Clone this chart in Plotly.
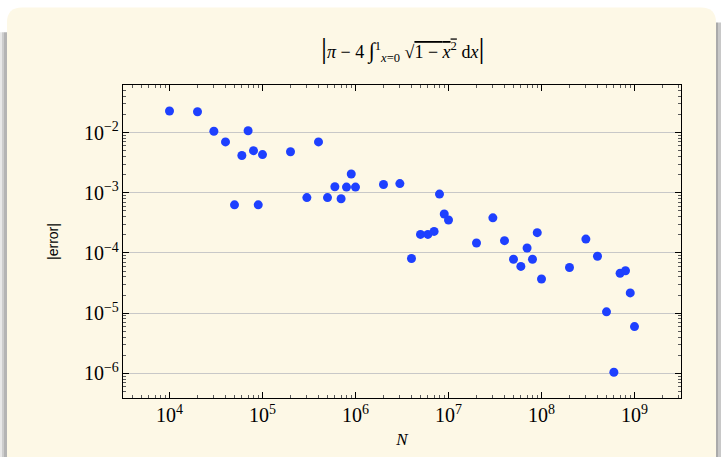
import plotly.graph_objects as go

# Data
N = [1e4, 2e4, 3e4, 4e4, 5e4, 6e4, 7e4, 8e4, 9e4,
     1e5, 2e5, 3e5, 4e5, 5e5, 6e5, 7e5, 8e5, 9e5,
     1e6, 2e6, 3e6, 4e6, 5e6, 6e6, 7e6, 8e6, 9e6,
     1e7, 2e7, 3e7, 4e7, 5e7, 6e7, 7e7, 8e7, 9e7,
     1e8, 2e8, 3e8, 4e8, 5e8, 6e8, 7e8, 8e8, 9e8,
     1e9]
error = [2.28e-2, 2.22e-2, 1.05e-2, 7.0e-3, 6.3e-4, 4.15e-3, 1.07e-2, 5.0e-3, 6.3e-4,
         4.3e-3, 4.8e-3, 8.3e-4, 7.0e-3, 8.3e-4, 1.26e-3, 7.96e-4, 1.24e-3, 2.05e-3,
         1.24e-3, 1.37e-3, 1.42e-3, 8.1e-5, 2.03e-4, 2.03e-4, 2.28e-4, 9.5e-4, 4.43e-4,
         3.53e-4, 1.46e-4, 3.83e-4, 1.6e-4, 7.87e-5, 5.97e-5, 1.21e-4, 7.87e-5, 2.17e-4,
         3.69e-5, 5.74e-5, 1.7e-4, 8.8e-5, 1.05e-5, 1.04e-6, 4.6e-5, 5.05e-5, 2.17e-5,
         5.97e-6]

W, H = 721, 457
L, R, T, B = 123, 681, 85, 400
CARD = "rgb(253,248,230)"

fig = go.Figure()
fig.add_trace(go.Scatter(x=N, y=error, mode="markers",
                         marker=dict(size=9, color="rgb(30,64,255)", line=dict(width=0)),
                         showlegend=False))


def px(x):
    return (x - L) / (R - L)


def py(y):
    return (B - y) / (B - T)


shapes = []
# card with rounded top corners
x0, x1, y0, y1, r = 7, 716, 7, 470, 15
path = (f"M {px(x0)},{py(y1)} L {px(x0)},{py(y0 + r)} "
        f"Q {px(x0)},{py(y0)} {px(x0 + r)},{py(y0)} "
        f"L {px(x1 - r)},{py(y0)} "
        f"Q {px(x1)},{py(y0)} {px(x1)},{py(y0 + r)} "
        f"L {px(x1)},{py(y1)} Z")
shapes.append(dict(type="path", xref="paper", yref="paper", path=path,
                   fillcolor=CARD, line=dict(width=0), layer="below"))
# shadows
for (a, b, c) in [(0, 2, "rgb(232,232,232)"), (2, 4, "rgb(205,205,205)"), (4, 7, "rgb(180,180,180)")]:
    shapes.append(dict(type="rect", xref="paper", yref="paper",
                       x0=px(a), x1=px(b), y0=py(470), y1=py(32),
                       fillcolor=c, line=dict(width=0), layer="below"))
for (a, b, c) in [(716, 718, "rgb(170,170,170)"), (718, 721, "rgb(200,200,200)")]:
    shapes.append(dict(type="rect", xref="paper", yref="paper",
                       x0=px(a), x1=px(b), y0=py(470), y1=py(22),
                       fillcolor=c, line=dict(width=0), layer="below"))

serif = "Liberation Serif"

axis_common = dict(
    type="log", dtick=1, exponentformat="power",
    showline=True, linecolor="black", linewidth=1, mirror="allticks",
    ticks="inside", ticklen=6, tickcolor="black",
    minor=dict(dtick="D1", ticks="inside", ticklen=3, tickcolor="rgb(90,90,90)", showgrid=False),
    tickfont=dict(family=serif, size=16, color="black"),
    zeroline=False,
)

title_text = ("<span style='font-size:30px'>|</span><i>π</i> − 4 "
              "<span style='font-size:22px'>∫</span><sup>1</sup><sub><i>x</i>=0</sub> "
              "√<span style='text-decoration:overline'>1 − <i>x</i><sup>2</sup></span> d<i>x</i>"
              "<span style='font-size:30px'>|</span>")

fig.update_layout(
    width=W, height=H,
    margin=dict(l=L, r=W - R, t=T, b=H - B),
    paper_bgcolor="white",
    plot_bgcolor=CARD,
    shapes=shapes,
    xaxis=dict(range=[3.5, 9.5], showgrid=False,
               title=dict(text="<i>N</i>", font=dict(family=serif, size=17, color="black"), standoff=7),
               **axis_common),
    yaxis=dict(range=[-6.41, -1.21], showgrid=True, gridcolor="rgb(200,200,200)", gridwidth=1,
               title=dict(text="|error|", font=dict(family="Liberation Sans", size=14, color="black"), standoff=21),
               **axis_common),
    annotations=[dict(
        xref="paper", yref="paper", x=0.5, y=py(48), xanchor="center", yanchor="middle",
        text=title_text,
        showarrow=False, font=dict(family=serif, size=18, color="black"))],
)

fig.write_html("out.html", config={"displayModeBar": False},
               post_script="document.body.style.margin='0px';document.body.style.padding='0px';")
